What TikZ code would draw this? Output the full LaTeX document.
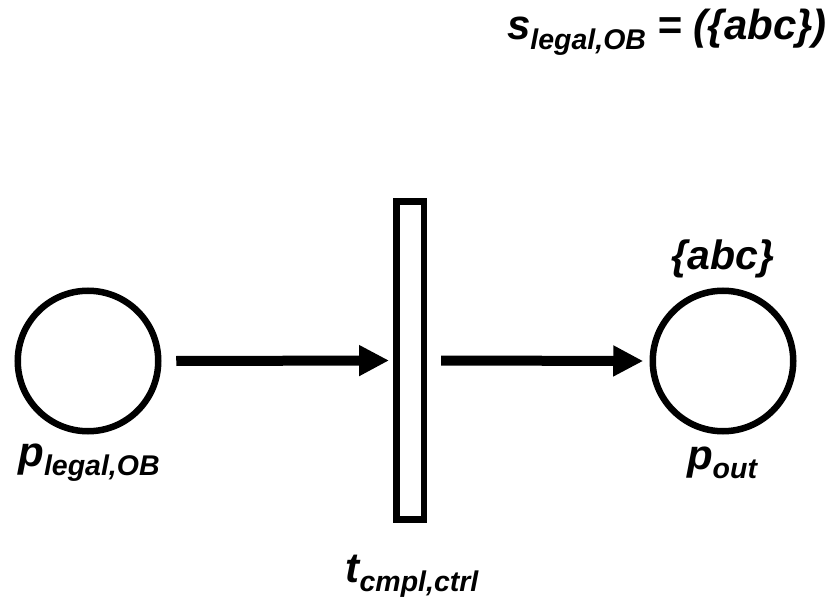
\documentclass[tikz,border=0pt]{standalone}
\usepackage{fontspec}
\setmainfont{Liberation Sans}
\usetikzlibrary{arrows.meta}
\newcommand{\mainsz}{\fontsize{42}{48}\selectfont}
\newcommand{\subsz}{\fontsize{28.5}{32}\selectfont}
\newcommand{\lab}[2]{{\mainsz #1}\raisebox{-9.5pt}{\subsz #2}}
\begin{document}
\begin{tikzpicture}[x=1pt,y=-1pt,font=\bfseries\itshape]
\tikzset{
  place/.style={circle,draw,line width=6.5pt,minimum size=140.5pt,inner sep=0pt,outer sep=0pt},
  trans/.style={rectangle,draw,line width=6.5pt,minimum width=27.5pt,minimum height=318pt,inner sep=0pt,outer sep=0pt},
  arr/.style={line width=10pt,-{Triangle[length=30pt,width=29pt]}},
  lbl/.style={inner sep=0pt,anchor=base}
}
\useasboundingbox (0,0) rectangle (836,604);
\node[place] (pin) at (88,361) {};
\node[place] (pout) at (723,361) {};
\node[trans] (t) at (410.3,360.5) {};
\draw[arr] ([xshift=18pt]pin.east) -- ([xshift=-7.5pt]t.west);
\draw[arr] ([xshift=17pt]t.east) -- ([xshift=-9.5pt]pout.west);
\node[lbl] (lin) at (89,466) {\lab{p}{legal,OB}};
\node[lbl] (lout) at (722,469) {\lab{p}{out}};
\node[lbl] (tok) at (723,270) {\fontsize{41}{48}\selectfont\{abc\}};
\node[lbl] (lt) at (412,582) {\lab{t}{cmpl,ctrl}};
\node[lbl] (ls) at (667,40) {\lab{s}{legal,OB}{\mainsz\ = (\{abc\})}};
\end{tikzpicture}
\end{document}
